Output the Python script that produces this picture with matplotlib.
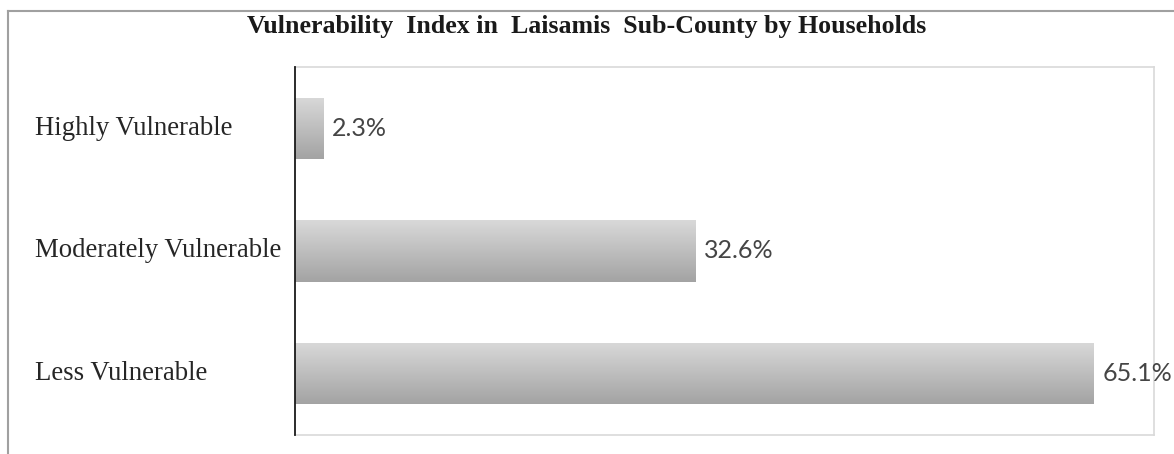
import numpy as np
import matplotlib
matplotlib.use("Agg")
import matplotlib.pyplot as plt
from matplotlib.transforms import blended_transform_factory
from matplotlib.lines import Line2D

categories = ["Highly Vulnerable", "Moderately Vulnerable", "Less Vulnerable"]
values = [2.3, 32.6, 65.1]
value_labels = ["2.3%", "32.6%", "65.1%"]
title = "Vulnerability  Index in  Laisamis  Sub-County by Households"

fig = plt.figure(figsize=(11.74, 4.54), dpi=100)
ax = fig.add_axes([0.2513, 0.0419, 0.7317, 0.8105])

ypos = np.arange(len(categories))
bars = ax.barh(ypos, values, height=0.5, color="#c0c0c0", edgecolor="none")

# vertical grey gradient inside every bar
grad = np.linspace(0, 1, 256).reshape(-1, 1)
cmap = matplotlib.colors.LinearSegmentedColormap.from_list("g", ["#d9d9d9", "#a3a3a3"])
for b in bars:
    x0, y0 = b.get_x(), b.get_y()
    w, h = b.get_width(), b.get_height()
    im = ax.imshow(grad, cmap=cmap, aspect="auto", origin="upper",
                   extent=[x0, x0 + w, y0 + h, y0], zorder=2)
    im.set_clip_path(b)

ax.set_xlim(0, 70)
ax.set_ylim(len(categories) - 0.5, -0.5)
ax.set_xticks([])
ax.set_yticks([])
for s in ["top", "right", "bottom"]:
    ax.spines[s].set_color("#d9d9d9")
    ax.spines[s].set_linewidth(1.2)
ax.spines["left"].set_color("#1a1a1a")
ax.spines["left"].set_linewidth(1.3)
ax.spines["left"].set_zorder(5)

for y, v, lab in zip(ypos, values, value_labels):
    ax.annotate(lab, (v, y), xytext=(6.5, 0), textcoords="offset points",
                va="center", ha="left", fontsize=18, color="#454545",
                family=["Lato", "DejaVu Sans"], annotation_clip=False)

trans = blended_transform_factory(fig.transFigure, ax.transData)
for y, c in zip(ypos, categories):
    ax.text(35 / 1174, y, c, transform=trans, ha="left", va="center",
            fontsize=19.3, color="#262626", family=["Liberation Serif", "DejaVu Serif"])

fig.text(0.5, 1 - 26 / 454, title, ha="center", va="center", fontsize=18.6,
         fontweight="bold", color="#1a1a1a", family=["Liberation Serif", "DejaVu Serif"])

# outer frame (only top and left edges are visible in the crop)
fig.add_artist(Line2D([8 / 1174, 8 / 1174], [0, 1 - 11 / 454], transform=fig.transFigure,
                      color="#a0a0a0", lw=1.5))
fig.add_artist(Line2D([8 / 1174, 1], [1 - 11 / 454, 1 - 11 / 454], transform=fig.transFigure,
                      color="#a0a0a0", lw=1.5))

fig.savefig("out.png", dpi=100)
